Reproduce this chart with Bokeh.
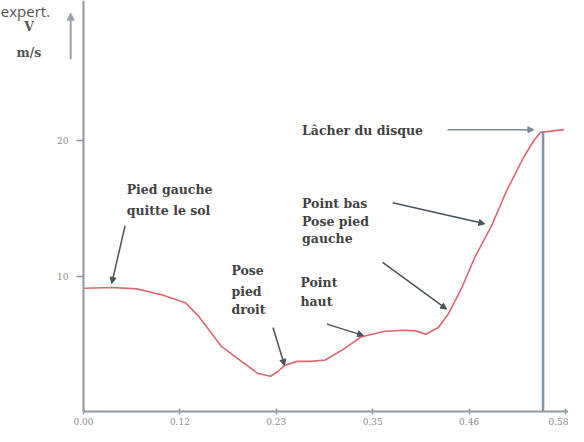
from bokeh.plotting import figure
from bokeh.models import Label, Arrow, NormalHead, FixedTicker, NumeralTickFormatter, Range1d
from bokeh.embed import file_html
from bokeh.resources import INLINE

# --- data -------------------------------------------------------------
t = [0.000, 0.036, 0.064, 0.095, 0.123, 0.139, 0.166, 0.190, 0.210, 0.225,
     0.234, 0.242, 0.257, 0.273, 0.291, 0.313, 0.334, 0.361, 0.384, 0.400,
     0.412, 0.427, 0.439, 0.455, 0.471, 0.491, 0.510, 0.530, 0.542, 0.550, 0.578]
v = [9.10, 9.15, 9.05, 8.60, 8.00, 7.00, 4.80, 3.70, 2.80, 2.60,
     2.95, 3.40, 3.70, 3.70, 3.80, 4.60, 5.50, 5.90, 6.00, 5.95,
     5.70, 6.20, 7.20, 9.10, 11.40, 13.70, 16.40, 18.80, 20.00, 20.60, 20.80]
t_release = 0.553
v_release = 20.7
x_ticks = [0.0, 0.116, 0.232, 0.348, 0.464, 0.58]
y_ticks = [10, 20]
title_fragment = "expert."
y_unit_lines = ["V", "m/s"]
notes = {
    "pied_gauche": ["Pied gauche", "quitte le sol"],
    "pied_droit": ["Pose", "pied", "droit"],
    "point_haut": ["Point", "haut"],
    "point_bas": ["Point bas", "Pose pied", "gauche"],
    "lacher": ["Lâcher du disque"],
}

# --- figure: frame fills the canvas, axes drawn at fixed data locations --
W, H = 568, 426
x0_px, x_scale = 83, 831.0      # pixel of t=0, pixels per second
y0_px, y_scale = 411, 13.55     # pixel of v=0, pixels per m/s
p = figure(width=W, height=H, output_backend="svg", toolbar_location=None,
           x_range=Range1d(-x0_px / x_scale, (W - x0_px) / x_scale),
           y_range=Range1d(-(H - y0_px) / y_scale, y0_px / y_scale),
           min_border=0, min_border_left=0, min_border_right=0,
           min_border_top=0, min_border_bottom=0)
p.grid.visible = False
p.outline_line_color = None
p.background_fill_color = "white"

AX = "#8e98a5"
p.xaxis.ticker = FixedTicker(ticks=x_ticks)
p.xaxis.formatter = NumeralTickFormatter(format="0.00")
p.yaxis.ticker = FixedTicker(ticks=y_ticks)
p.xaxis.fixed_location = 0
p.yaxis.fixed_location = 0
p.xaxis.bounds = (0, 0.5875)
p.yaxis.bounds = (0, y0_px / y_scale)
for ax in (p.xaxis, p.yaxis):
    ax.axis_line_color = AX
    ax.axis_line_width = 2
    ax.major_tick_line_color = AX
    ax.major_tick_line_width = 1.5
    ax.minor_tick_line_color = None
    ax.major_label_text_font_size = "9px"
    ax.major_label_text_color = "#8a8a8a"
    ax.major_label_text_font = "DejaVu Serif"
p.xaxis.major_tick_in = 3
p.xaxis.major_tick_out = 3
p.xaxis.major_label_standoff = 3
p.yaxis.major_tick_in = 0
p.yaxis.major_tick_out = 7
p.yaxis.major_label_standoff = 8

# --- curve ------------------------------------------------------------
p.line(t, v, line_color="#dc6670", line_width=1.6)

# release marker
p.segment(x0=[t_release], y0=[0], x1=[t_release], y1=[v_release],
          line_color="#8593a6", line_width=2.5)

# --- annotations --------------------------------------------------------
TXT = "#424242"
FONT = "DejaVu Serif"

def lines(x, ys, texts, size="12.5px"):
    for yy, tx in zip(ys, texts):
        p.add_layout(Label(x=x, y=yy, text=tx, text_font=FONT, text_font_style="bold",
                           text_font_size=size, text_color=TXT,
                           text_baseline="middle", text_align="left"))

def arrow(x0, y0, x1, y1, color="#48525c", width=1.5, size=6):
    p.add_layout(Arrow(x_start=x0, y_start=y0, x_end=x1, y_end=y1,
                       line_color=color, line_width=width,
                       end=NormalHead(size=size, fill_color=color, line_color=color)))

lines(0.052, [16.4, 14.8], notes["pied_gauche"])
arrow(0.050, 13.7, 0.034, 9.45)

lines(0.178, [10.4, 8.85, 7.55], notes["pied_droit"])
arrow(0.228, 6.2, 0.242, 3.4)

lines(0.261, [9.55, 8.1], notes["point_haut"])
arrow(0.293, 6.45, 0.337, 5.6)

lines(0.263, [15.35, 14.05, 12.75], notes["point_bas"])
arrow(0.372, 15.4, 0.483, 13.85)
arrow(0.360, 11.0, 0.437, 7.55)

lines(0.263, [20.75], notes["lacher"])
arrow(0.438, 20.8, 0.542, 20.8, color="#7d8894")

# y unit and up arrow, left of the axis
for yy, tx in zip([28.45, 26.5], y_unit_lines):
    p.add_layout(Label(x=-0.0656, y=yy, text=tx, text_font=FONT, text_font_style="bold",
                       text_font_size="12.5px", text_color="#555555",
                       text_baseline="middle", text_align="center"))
arrow(-0.0154, 26.0, -0.0154, 29.4, color="#9aa2ac", width=2, size=7)

p.add_layout(Label(x=-0.0995, y=29.55, text=title_fragment, text_font="Open Sans",
                   text_font_size="15px", text_color="#555555",
                   text_baseline="alphabetic", text_align="left"))

open("out.html", "w").write(file_html(p, INLINE))
